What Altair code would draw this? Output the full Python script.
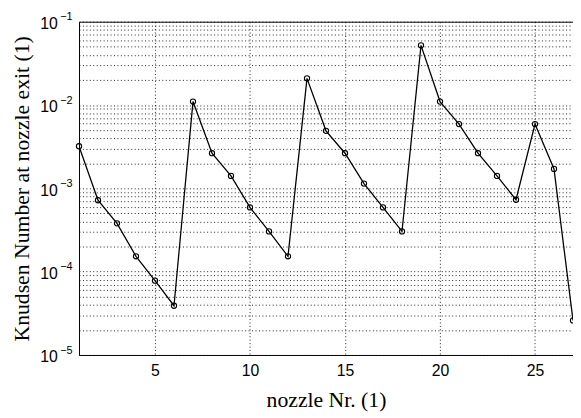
import altair as alt
import pandas as pd

nozzle = list(range(1, 28))
knudsen = [3.2e-3, 7.2e-4, 3.8e-4, 1.53e-4, 7.8e-5, 3.9e-5,
           1.1e-2, 2.64e-3, 1.41e-3, 5.9e-4, 3.04e-4, 1.53e-4,
           2.09e-2, 4.9e-3, 2.64e-3, 1.14e-3, 5.9e-4, 3.04e-4,
           5.2e-2, 1.1e-2, 5.9e-3, 2.64e-3, 1.41e-3, 7.3e-4,
           5.9e-3, 1.71e-3, 2.6e-5]
x_ticks = [5, 10, 15, 20, 25]
decades = [1e-5, 1e-4, 1e-3, 1e-2, 1e-1]
y_grid = [m * d for d in decades[:-1] for m in range(1, 10)] + [1e-1]

df = pd.DataFrame({"nozzle": nozzle, "kn": knudsen})

xscale = alt.Scale(domain=[1, 27], nice=False)
yscale = alt.Scale(type="log", domain=[1e-5, 1e-1], nice=False)

GRID = dict(grid=True, gridDash=[1, 2.5], gridColor="#222222", gridWidth=1, gridOpacity=1)

x_main = alt.X("nozzle:Q", scale=xscale, axis=alt.Axis(
    values=x_ticks, ticks=False, domain=True, domainColor="black", domainWidth=1,
    labelFont="Liberation Sans", labelFontSize=16, labelColor="black", labelPadding=8,
    labelFlush=False, labelOverlap=False,
    title="nozzle Nr. (1)", titleFont="Liberation Serif", titleFontSize=22,
    titleFontWeight="normal", titleColor="black", titleY=52, titleBaseline="alphabetic",
    **GRID))

y_main = alt.Y("kn:Q", scale=yscale, axis=alt.Axis(
    values=y_grid, ticks=False, domain=True, domainColor="black", domainWidth=1,
    labelExpr="abs(log(datum.value)/LN10 - round(log(datum.value)/LN10)) < 0.001 ? '10' : ''",
    labelFont="Liberation Sans", labelFontSize=16, labelColor="black", labelPadding=22,
    labelOffset=2, labelFlush=False, labelOverlap=False, labelBound=False,
    title="Knudsen Number at nozzle exit (1)", titleFont="Liberation Serif", titleFontSize=22,
    titleFontWeight="normal", titleColor="black", titleX=-58, titleY=169, titleAngle=270,
    titleAlign="center", titleBaseline="middle",
    **GRID))

x_top = alt.X("nozzle:Q", scale=xscale, axis=alt.Axis(
    orient="top", values=x_ticks, labels=False, ticks=False, grid=False,
    domain=True, domainColor="black", domainWidth=1, title=None))

y_exp = alt.Y("kn:Q", scale=yscale, axis=alt.Axis(
    orient="left", values=decades, ticks=False, grid=False, domain=False,
    labelExpr="'\u2212' + round(-log(datum.value)/LN10)",
    labelFont="Liberation Sans", labelFontSize=11, labelColor="black", labelPadding=7,
    labelOffset=-5, labelFlush=False, labelOverlap=False, labelBound=False, title=None))

line = alt.Chart(df).mark_line(color="black", strokeWidth=1.3, clip=True).encode(x=x_main, y=y_main)
pts = alt.Chart(df).mark_point(shape="circle", filled=False, color="black", size=28,
                               strokeWidth=1.1, opacity=1).encode(x=x_top, y=y_exp)

chart = alt.layer(line, pts).resolve_axis(x="independent", y="independent").properties(
    width=501, height=338,
    autosize=alt.AutoSizeParams(type="none"),
    padding={"left": 72, "top": 11, "right": 0, "bottom": 61},
).configure_view(stroke=None)

chart.save("out.html", embed_options={"renderer": "svg", "actions": False})
